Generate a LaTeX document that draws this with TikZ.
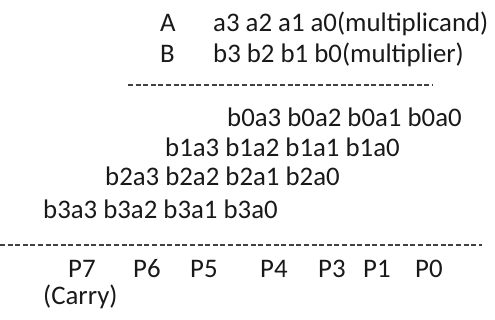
\documentclass[tikz,border=0pt]{standalone}
\usepackage{fontspec}
\setmainfont{Carlito}
\begin{document}
\begin{tikzpicture}[x=1pt,y=-1pt,
  lbl/.style={anchor=base west,inner sep=0pt,font=\fontsize{26.8}{30}\selectfont,text=black!90},
  dashrule/.style={draw=black!75,line width=1.6pt,dash pattern=on 5pt off 2.6pt}]
\useasboundingbox (0,0) rectangle (495,320);
\node[lbl] (A) at (160,32) {A};
\node[lbl] (arow) at (213,32) {a3 a2 a1 a0(multiplicand)};
\node[lbl] (B) at (160,63) {B};
\node[lbl] (brow) at (213,63) {b3 b2 b1 b0(multiplier)};
\coordinate (d1s) at (128,85);
\coordinate (d1e) at (433,85);
\draw[dashrule] (d1s) -- (d1e);
\node[lbl] (r0) at (227,127) {b0a3 b0a2 b0a1 b0a0};
\node[lbl] (r1) at (165,157) {b1a3 b1a2 b1a1 b1a0};
\node[lbl] (r2) at (105,186) {b2a3 b2a2 b2a1 b2a0};
\node[lbl] (r3) at (43,219) {b3a3 b3a2 b3a1 b3a0};
\coordinate (d2s) at (0,245);
\coordinate (d2e) at (482,245);
\draw[dashrule] (d2s) -- (d2e);
\node[lbl] (p7) at (68,278) {P7};
\node[lbl] (p6) at (133,278) {P6};
\node[lbl] (p5) at (190,278) {P5};
\node[lbl] (p4) at (260,278) {P4};
\node[lbl] (p3) at (318,278) {P3};
\node[lbl] (p1) at (363,278) {P1};
\node[lbl] (p0) at (415,278) {P0};
\node[lbl] (carry) at (43,305) {(Carry)};
\end{tikzpicture}
\end{document}
